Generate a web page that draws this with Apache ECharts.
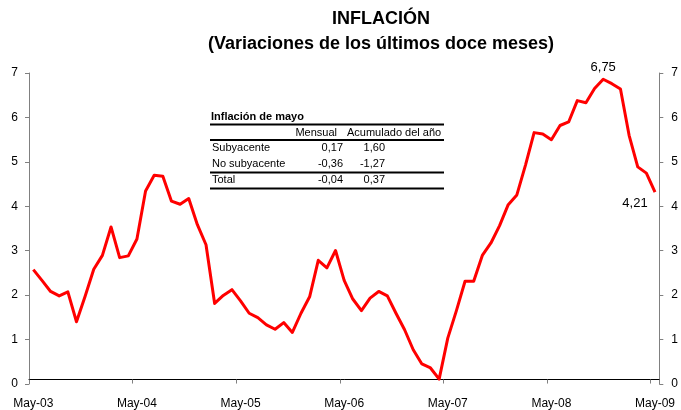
<!DOCTYPE html>
<html>
<head>
<meta charset="utf-8">
<script src="https://cdn.jsdelivr.net/npm/echarts@6/dist/echarts.min.js"></script>
<style>
  html, body { margin: 0; padding: 0; background: #fff; }
  #myChart { width: 681px; height: 410px; }
</style>
</head>
<body>
<div id="myChart"></div>
<script>
// inflacion 12 meses, mensual, may-03 a may-09
var monthNames = ['Jan', 'Feb', 'Mar', 'Apr', 'May', 'Jun', 'Jul', 'Aug', 'Sep', 'Oct', 'Nov', 'Dec']
var startYear = 2003
var startMonth = 4 // May
var inflation = [
  2.47, 2.23, 1.98, 1.88, 1.97, 1.30, 1.87, 2.48, 2.79, 3.43,
  2.74, 2.78, 3.16, 4.24, 4.59, 4.57, 4.01, 3.94, 4.07, 3.48,
  3.03, 1.71, 1.89, 2.02, 1.77, 1.49, 1.39, 1.23, 1.13, 1.28,
  1.06, 1.49, 1.86, 2.68, 2.51, 2.90, 2.23, 1.81, 1.55, 1.83,
  1.98, 1.88, 1.49, 1.12, 0.67, 0.35, 0.26, 0.01, 0.93, 1.55,
  2.21, 2.21, 2.79, 3.07, 3.46, 3.93, 4.15, 4.82, 5.55, 5.52,
  5.39, 5.71, 5.79, 6.27, 6.22, 6.54, 6.75, 6.65, 6.53, 5.49,
  4.78, 4.64, 4.21
]
var yTicks = [0, 1, 2, 3, 4, 5, 6, 7]

// tabla
var tableTitle = 'Inflación de mayo'
var tableHeader = ['', 'Mensual', 'Acumulado del año']
var tableRows = [
  ['Subyacente', '0,17', '1,60'],
  ['No subyacente', '-0,36', '-1,27'],
  ['Total', '-0,04', '0,37']
]

var months = []
for (var i = 0; i < inflation.length; i++) {
  var m = (startMonth + i) % 12
  var y = startYear + Math.floor((startMonth + i) / 12)
  months.push(monthNames[m] + '-' + String(y).slice(2))
}

var fontFam = '"Liberation Sans", Arial, sans-serif'
var peakIdx = inflation.indexOf(Math.max.apply(null, inflation))
var lastIdx = inflation.length - 1

var seriesData = inflation.map(function (v, i) {
  if (i === peakIdx) {
    return { value: v, label: { show: true, position: 'top', distance: 5 } }
  }
  if (i === lastIdx) {
    return { value: v, label: { show: true, position: 'bottom', distance: 5, offset: [-20, 0] } }
  }
  return v
})

// tabla como graphic
var tLeft = 210
var tRight = 444
var colRight = [0, 343, 385]
var rowY = [148, 164, 180]
var graphics = []
graphics.push({ type: 'text', left: 211, top: 111, style: { text: tableTitle, font: 'bold 11px ' + fontFam, fill: '#000' } })
graphics.push({ type: 'text', style: { x: 337, y: 133, text: tableHeader[1], font: '11px ' + fontFam, fill: '#000', textAlign: 'right', textVerticalAlign: 'middle' } })
graphics.push({ type: 'text', style: { x: 347, y: 133, text: tableHeader[2], font: '11px ' + fontFam, fill: '#000', textAlign: 'left', textVerticalAlign: 'middle' } })
tableRows.forEach(function (row, r) {
  graphics.push({ type: 'text', style: { x: 212, y: rowY[r], text: row[0], font: '11px ' + fontFam, fill: '#000', textAlign: 'left', textVerticalAlign: 'middle' } })
  graphics.push({ type: 'text', style: { x: colRight[1], y: rowY[r], text: row[1], font: '11px ' + fontFam, fill: '#000', textAlign: 'right', textVerticalAlign: 'middle' } })
  graphics.push({ type: 'text', style: { x: colRight[2], y: rowY[r], text: row[2], font: '11px ' + fontFam, fill: '#000', textAlign: 'right', textVerticalAlign: 'middle' } })
})
;[124.5, 140, 172.5, 188.5].forEach(function (ly) {
  graphics.push({ type: 'line', shape: { x1: tLeft, y1: ly, x2: tRight, y2: ly }, style: { stroke: '#000', lineWidth: 2 } })
})

var myChart = echarts.init(document.getElementById('myChart'))
var option = {
  backgroundColor: '#fff',
  animation: false,
  title: {
    text: 'INFLACIÓN\n(Variaciones de los últimos doce meses)',
    left: 376,
    top: 2,
    textAlign: 'center',
    textStyle: { fontSize: 18, fontWeight: 'bold', color: '#000', lineHeight: 25, fontFamily: fontFam }
  },
  grid: { left: 29, right: 16, top: 73, bottom: 24 },
  xAxis: {
    type: 'category',
    data: months,
    boundaryGap: true,
    axisLine: { show: true, onZero: true, onZeroAxisIndex: 2, lineStyle: { color: '#000', width: 1 } },
    axisTick: { show: true, interval: 11, length: 4, lineStyle: { color: '#808080' } },
    axisLabel: { interval: 11, margin: 14, color: '#000', fontSize: 12, fontFamily: fontFam },
    splitLine: { show: false }
  },
  yAxis: [
    {
      type: 'value', position: 'left', min: yTicks[0], max: yTicks[yTicks.length - 1], interval: 1,
      axisLine: { show: true, lineStyle: { color: '#808080' } },
      axisTick: { show: true, length: 4, lineStyle: { color: '#808080' } },
      axisLabel: { margin: 11, color: '#000', fontSize: 12, fontFamily: fontFam },
      splitLine: { show: false }
    },
    {
      type: 'value', position: 'right', min: yTicks[0], max: yTicks[yTicks.length - 1], interval: 1,
      axisLine: { show: true, lineStyle: { color: '#808080' } },
      axisTick: { show: true, length: 4, lineStyle: { color: '#808080' } },
      axisLabel: { margin: 12, color: '#000', fontSize: 12, fontFamily: fontFam },
      splitLine: { show: false }
    },
    {
      // escala de la serie
      type: 'value', show: false, min: -0.1, max: 6.89, splitLine: { show: false }
    }
  ],
  series: [{
    type: 'line',
    yAxisIndex: 2,
    data: seriesData,
    showSymbol: true,
    showAllSymbol: true,
    symbol: 'circle',
    symbolSize: 0,
    lineStyle: { color: '#ff0000', width: 3, join: 'round' },
    itemStyle: { color: '#ff0000' },
    label: {
      show: false,
      color: '#000',
      fontSize: 13,
      fontFamily: fontFam,
      formatter: function (p) { return p.value.toFixed(2).replace('.', ',') }
    }
  }],
  graphic: graphics
}
myChart.setOption(option, true)
</script>
</body>
</html>
